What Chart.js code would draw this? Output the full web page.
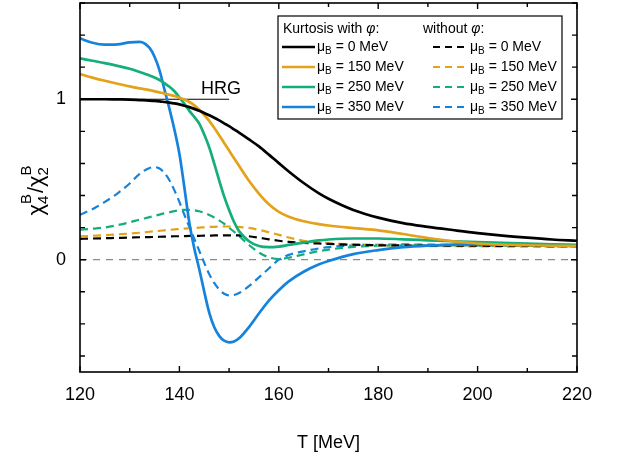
<!DOCTYPE html>
<html>
<head>
<meta charset="utf-8">
<script src="https://cdn.jsdelivr.net/npm/chart.js@4.4.1/dist/chart.umd.min.js"></script>
<style>
  html, body { margin: 0; padding: 0; background: #fff; }
  #wrap { width: 627px; height: 458px; }
</style>
</head>
<body>
<div id="wrap"><canvas id="kurt" width="627" height="458"></canvas></div>
<script>
// temperature grid (MeV), shared by all curves
const temps = [120, 122.5, 125, 127.5, 130, 132, 134, 135, 136, 137, 138, 139, 140, 141, 142, 143, 144, 145, 146, 147, 148, 149, 150, 151, 152, 154, 156, 158, 160, 162, 165, 168, 170, 175, 180, 185, 190, 195, 200, 205, 210, 215, 220];

// kurtosis ratio with the sigma field
const withPhi0 = [1.000, 1.000, 1.000, 0.999, 0.998, 0.995, 0.992, 0.990, 0.987, 0.983, 0.979, 0.974, 0.968, 0.960, 0.951, 0.940, 0.928, 0.915, 0.900, 0.885, 0.868, 0.850, 0.832, 0.812, 0.792, 0.750, 0.706, 0.655, 0.602, 0.550, 0.478, 0.415, 0.380, 0.310, 0.262, 0.228, 0.205, 0.185, 0.166, 0.150, 0.137, 0.126, 0.118];
const withPhi150 = [1.157, 1.135, 1.115, 1.097, 1.080, 1.068, 1.057, 1.050, 1.043, 1.036, 1.028, 1.020, 1.010, 0.998, 0.983, 0.962, 0.935, 0.902, 0.865, 0.822, 0.776, 0.728, 0.680, 0.632, 0.585, 0.492, 0.412, 0.345, 0.298, 0.268, 0.240, 0.222, 0.213, 0.197, 0.183, 0.160, 0.135, 0.115, 0.101, 0.094, 0.090, 0.087, 0.085];
const withPhi250 = [1.255, 1.240, 1.225, 1.208, 1.190, 1.170, 1.148, 1.135, 1.120, 1.100, 1.078, 1.050, 1.012, 0.972, 0.928, 0.890, 0.848, 0.780, 0.700, 0.600, 0.495, 0.395, 0.310, 0.235, 0.178, 0.115, 0.085, 0.078, 0.082, 0.092, 0.106, 0.120, 0.126, 0.132, 0.132, 0.127, 0.121, 0.115, 0.110, 0.105, 0.100, 0.096, 0.093];
const withPhi350 = [1.380, 1.352, 1.340, 1.342, 1.355, 1.358, 1.320, 1.265, 1.180, 1.060, 0.940, 0.810, 0.660, 0.450, 0.230, 0.070, -0.060, -0.200, -0.330, -0.420, -0.475, -0.505, -0.515, -0.510, -0.490, -0.420, -0.335, -0.255, -0.190, -0.135, -0.075, -0.030, -0.008, 0.035, 0.060, 0.078, 0.088, 0.094, 0.096, 0.095, 0.093, 0.090, 0.088];

// kurtosis ratio without the sigma field
const noPhi0 = [0.130, 0.132, 0.134, 0.136, 0.138, 0.140, 0.141, 0.142, 0.143, 0.144, 0.145, 0.146, 0.146, 0.147, 0.148, 0.148, 0.149, 0.150, 0.150, 0.151, 0.151, 0.152, 0.152, 0.152, 0.151, 0.146, 0.137, 0.127, 0.118, 0.111, 0.105, 0.101, 0.098, 0.093, 0.090, 0.089, 0.088, 0.087, 0.087, 0.086, 0.086, 0.085, 0.085];
const noPhi150 = [0.145, 0.149, 0.153, 0.158, 0.163, 0.168, 0.174, 0.177, 0.180, 0.183, 0.186, 0.189, 0.191, 0.194, 0.196, 0.198, 0.200, 0.202, 0.204, 0.205, 0.206, 0.207, 0.207, 0.206, 0.204, 0.198, 0.186, 0.171, 0.155, 0.138, 0.118, 0.107, 0.102, 0.095, 0.090, 0.087, 0.085, 0.084, 0.083, 0.082, 0.081, 0.080, 0.080];
const noPhi250 = [0.187, 0.193, 0.201, 0.215, 0.233, 0.250, 0.265, 0.273, 0.281, 0.289, 0.296, 0.303, 0.308, 0.311, 0.311, 0.308, 0.302, 0.292, 0.279, 0.263, 0.245, 0.224, 0.200, 0.174, 0.147, 0.092, 0.045, 0.015, 0.004, 0.012, 0.033, 0.053, 0.063, 0.080, 0.087, 0.089, 0.090, 0.089, 0.088, 0.087, 0.086, 0.085, 0.084];
const noPhi350 = [0.280, 0.315, 0.360, 0.412, 0.475, 0.535, 0.572, 0.577, 0.568, 0.540, 0.495, 0.432, 0.360, 0.280, 0.205, 0.130, 0.055, -0.020, -0.090, -0.145, -0.185, -0.212, -0.222, -0.220, -0.208, -0.165, -0.110, -0.055, 0.000, 0.030, 0.052, 0.070, 0.078, 0.090, 0.093, 0.095, 0.094, 0.092, 0.090, 0.088, 0.086, 0.084, 0.082];

const muLabels = ['0', '150', '250', '350'];
const colors = ['#000000', '#E4A21A', '#13AE79', '#1583DC'];

// HRG limit and zero reference
const hrgT = [120, 150];
const hrgValue = 1;
const zeroT = [120, 220];

const xTicks = [120, 140, 160, 180, 200, 220];
const yLabelTicks = [0, 1];

function pts(xs, ys) {
    return xs.map((x, i) => ({ x: x, y: ys[i] }));
}

const withSets = [withPhi0, withPhi150, withPhi250, withPhi350];
const noSets = [noPhi0, noPhi150, noPhi250, noPhi350];
let datasets = [];

for (let i = 0; i < 4; i++) {
    datasets.push({
        label: 'μB = ' + muLabels[i] + ' MeV',
        legendCol: 0,
        legendRow: i,
        data: pts(temps, withSets[i]),
        borderColor: colors[i],
        borderWidth: 2.7,
        order: 1
    });
}
for (let i = 0; i < 4; i++) {
    datasets.push({
        label: 'μB = ' + muLabels[i] + ' MeV',
        legendCol: 1,
        legendRow: i,
        data: pts(temps, noSets[i]),
        borderColor: colors[i],
        borderWidth: 2.2,
        borderDash: [8, 5],
        order: 2
    });
}
datasets.push({
    label: 'HRG',
    data: pts(hrgT, [hrgValue, hrgValue]),
    borderColor: '#000',
    borderWidth: 1.2,
    cubicInterpolationMode: 'default',
    tension: 0,
    order: 3
});
datasets.push({
    label: 'zero',
    data: pts(zeroT, [0, 0]),
    borderColor: '#8a8a8a',
    borderWidth: 1.2,
    borderDash: [7, 6],
    cubicInterpolationMode: 'default',
    tension: 0,
    order: 4
});

const FONT = '"Liberation Sans", Arial, sans-serif';

// frame, inward ticks on all four sides, texts and the two-column legend
const decorations = {
    id: 'decorations',
    afterDraw(chart) {
        const ctx = chart.ctx;
        const a = chart.chartArea;
        const xs = chart.scales.x, ys = chart.scales.y;
        ctx.save();
        ctx.strokeStyle = '#000';
        ctx.lineWidth = 1.6;
        ctx.strokeRect(a.left, a.top, a.right - a.left, a.bottom - a.top);

        ctx.lineWidth = 1.4;
        ctx.beginPath();
        for (let t = 120; t <= 220; t += 10) {
            const px = xs.getPixelForValue(t);
            const len = (t % 20 == 0) ? 6 : 4;
            ctx.moveTo(px, a.bottom); ctx.lineTo(px, a.bottom - len);
            ctx.moveTo(px, a.top); ctx.lineTo(px, a.top + len);
        }
        for (let k = -3; k <= 8; k++) {
            const v = k * 0.2;
            const py = ys.getPixelForValue(v);
            const len = (k == 0 || k == 5) ? 6 : 5;
            ctx.moveTo(a.left, py); ctx.lineTo(a.left + len, py);
            ctx.moveTo(a.right, py); ctx.lineTo(a.right - len, py);
        }
        ctx.stroke();

        // HRG label
        ctx.fillStyle = '#000';
        ctx.font = '18px ' + FONT;
        ctx.textBaseline = 'alphabetic';
        ctx.textAlign = 'left';
        ctx.fillText('HRG', 201, 94);

        // y axis title: chi_4^B / chi_2^B
        ctx.translate(38, 190);
        ctx.rotate(-Math.PI / 2);
        const big = '22px ' + FONT, small = '15px ' + FONT;
        const parts = [
            ['χ', null], [null, ['B', '4']], ['/', null], ['χ', null], [null, ['B', '2']]
        ];
        let widths = parts.map(p => {
            if (p[0]) { ctx.font = big; return ctx.measureText(p[0]).width; }
            ctx.font = small;
            return Math.max(ctx.measureText(p[1][0]).width, ctx.measureText(p[1][1]).width) + 1;
        });
        let total = widths.reduce((s, w) => s + w, 0);
        let cx = -total / 2;
        ctx.textBaseline = 'alphabetic';
        parts.forEach((p, i) => {
            if (p[0]) {
                ctx.font = big;
                ctx.fillText(p[0], cx, 5);
            } else {
                ctx.font = small;
                ctx.fillText(p[1][0], cx, -7);
                ctx.fillText(p[1][1], cx, 10);
            }
            cx += widths[i];
        });
        ctx.restore();

        // legend
        ctx.save();
        const bx = 278, by = 16, bw = 284, bh = 103;
        ctx.fillStyle = '#fff';
        ctx.fillRect(bx, by, bw, bh);
        ctx.strokeStyle = '#000';
        ctx.lineWidth = 1.2;
        ctx.strokeRect(bx, by, bw, bh);
        ctx.fillStyle = '#000';
        ctx.textBaseline = 'middle';
        const headers = [['Kurtosis with ', 283], ['without ', 423]];
        headers.forEach(h => {
            ctx.font = '14px ' + FONT;
            ctx.fillText(h[0], h[1], 29);
            let w = ctx.measureText(h[0]).width;
            ctx.font = 'italic 14px ' + FONT;
            ctx.fillText('φ', h[1] + w, 29);
            w += ctx.measureText('φ').width;
            ctx.font = '14px ' + FONT;
            ctx.fillText(':', h[1] + w, 29);
        });
        const lineX = [[282, 315], [433, 468]];
        chart.data.datasets.forEach(ds => {
            if (ds.legendCol === undefined) return;
            const y = 47 + ds.legendRow * 20;
            const lx = lineX[ds.legendCol];
            ctx.strokeStyle = ds.borderColor;
            ctx.lineWidth = ds.borderWidth;
            ctx.setLineDash(ds.borderDash ? [7, 5] : []);
            ctx.beginPath();
            ctx.moveTo(lx[0], y); ctx.lineTo(lx[1], y);
            ctx.stroke();
            ctx.setLineDash([]);
            let tx = lx[1] + 2;
            ctx.font = '14px ' + FONT;
            ctx.fillText('μ', tx, y);
            tx += ctx.measureText('μ').width;
            ctx.font = '10px ' + FONT;
            ctx.fillText('B', tx, y + 4);
            tx += ctx.measureText('B').width;
            ctx.font = '14px ' + FONT;
            ctx.fillText(' = ' + muLabels[ds.legendRow] + ' MeV', tx, y);
        });
        ctx.restore();
    }
};

const chart = new Chart(document.getElementById('kurt'), {
    type: 'line',
    data: { datasets: datasets },
    options: {
        responsive: false,
        animation: false,
        events: [],
        layout: { padding: { top: 3, right: 50, left: 0, bottom: 0 } },
        elements: {
            point: { radius: 0 },
            line: { cubicInterpolationMode: 'monotone', fill: false }
        },
        plugins: {
            legend: { display: false },
            tooltip: { enabled: false }
        },
        scales: {
            x: {
                type: 'linear',
                min: 120,
                max: 220,
                grid: { display: false, drawTicks: false },
                border: { display: false },
                afterBuildTicks: s => { s.ticks = xTicks.map(v => ({ value: v })); },
                afterFit: s => { s.height = 86; s.paddingLeft = 0; s.paddingRight = 0; },
                ticks: {
                    color: '#000',
                    padding: 12,
                    maxRotation: 0,
                    font: { family: FONT, size: 18 }
                },
                title: {
                    display: true,
                    text: 'T [MeV]',
                    color: '#000',
                    padding: { top: 14 },
                    font: { family: FONT, size: 18 }
                }
            },
            y: {
                type: 'linear',
                min: -0.7,
                max: 1.6,
                grid: { display: false, drawTicks: false },
                border: { display: false },
                afterBuildTicks: s => { s.ticks = yLabelTicks.map(v => ({ value: v })); },
                afterFit: s => { s.width = 80; s.paddingTop = 0; s.paddingBottom = 0; },
                ticks: {
                    color: '#000',
                    padding: 14,
                    font: { family: FONT, size: 18 },
                    callback: v => String(v)
                }
            }
        }
    },
    plugins: [decorations]
});
</script>
</body>
</html>
